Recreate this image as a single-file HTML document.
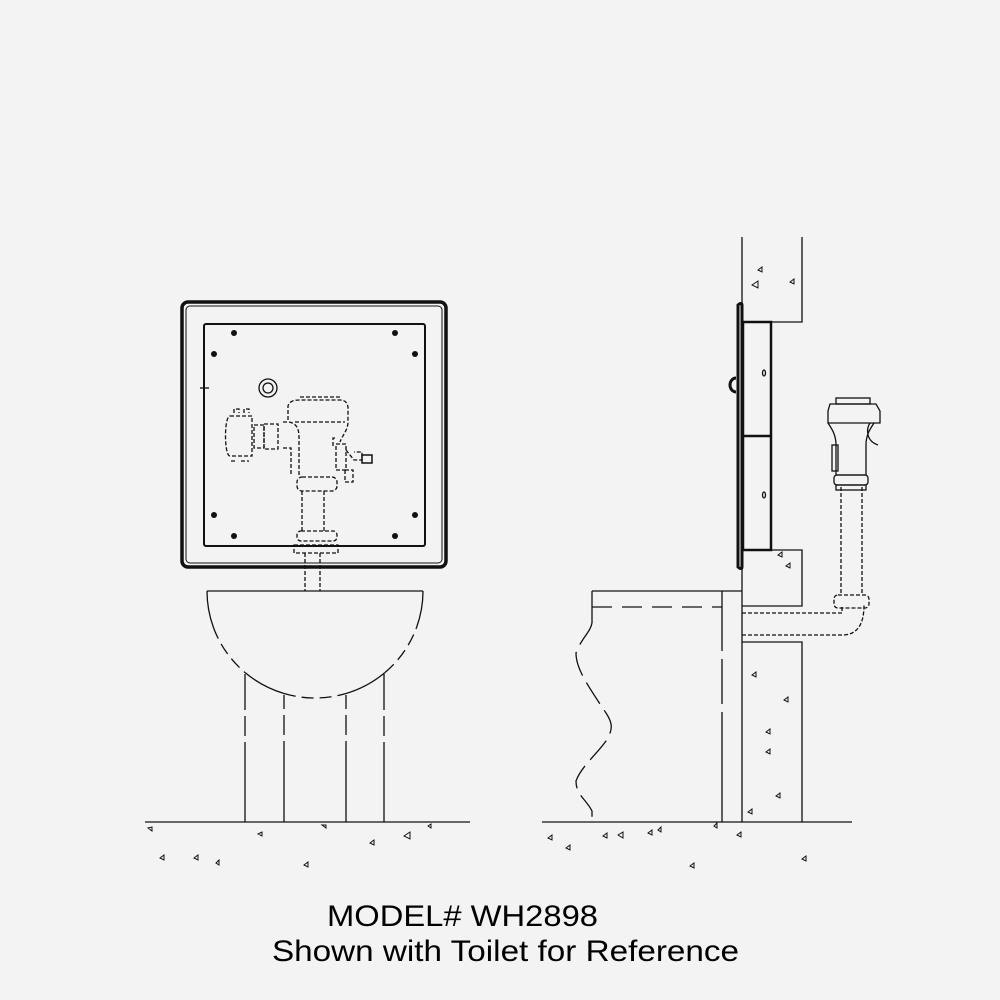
<!DOCTYPE html>
<html><head><style>html,body{margin:0;padding:0;background:#f3f3f3}svg{display:block}</style></head>
<body>
<svg width="1000" height="1000" viewBox="0 0 1000 1000" xmlns="http://www.w3.org/2000/svg">
<rect width="1000" height="1000" fill="#f3f3f3"/>
<g fill="none" stroke="#111" stroke-width="1.3">
<!-- LEFT VIEW panel -->
<rect x="182" y="302" width="264" height="265" rx="6" stroke-width="3.5"/>
<rect x="186" y="306" width="256" height="257" rx="4" stroke-width="1"/>
<rect x="204" y="324" width="221" height="222" rx="2" stroke-width="2"/>
<g fill="#111" stroke="none">
<circle cx="234" cy="333" r="3"/><circle cx="395" cy="333" r="3"/>
<circle cx="214" cy="354" r="3"/><circle cx="415" cy="354" r="3"/>
<circle cx="214" cy="515" r="3"/><circle cx="415" cy="515" r="3"/>
<circle cx="234" cy="536" r="3"/><circle cx="395" cy="536" r="3"/>
</g>
<circle cx="268" cy="388" r="9"/><circle cx="268" cy="388" r="5"/>
<line x1="200" y1="388" x2="209" y2="388"/>
<g stroke-dasharray="4 2">
<path d="M234 413v-4h5v4 M244 413v-4h5v4"/>
<path d="M230 416h22v40h-22c-6 0-6-40 0-40z"/>
<path d="M231 461h6 M241 461h8"/>
<rect x="254" y="425" width="10" height="23"/><rect x="264" y="424" width="14" height="25"/>
<path d="M283 422h6c10 2 10 10 10 18v35 M283 448h8v27"/>
<path d="M288 420v-14c2-6 8-6 12-6h40c6 0 8 4 8 8v14c0 8-6 14-8 20 M295 422h50 M300 397h40"/>
<path d="M333 446v-8h4"/>
<rect x="336" y="444" width="10" height="26"/>
<path d="M346 450l8 10h8v-8h-8"/>
<rect x="345" y="470" width="8" height="12"/>
<rect x="297" y="477" width="40" height="14" rx="5"/>
<path d="M302 491v40 M324 491v40"/>
<rect x="297" y="531" width="40" height="10" rx="4"/>
<rect x="294" y="545" width="44" height="8"/>
<path d="M305 553v38 M320 553v38"/>
</g>
<path d="M362 455h10v8h-10z" stroke-width="1.5"/>
<!-- bowl -->
<line x1="207" y1="591" x2="423" y2="591"/>
<path d="M207 591 A108 107 0 0 0 213.5 627.6 M245 672.5 A108 107 0 0 0 284 693.5 M346 693.5 A108 107 0 0 0 385 672.5 M416.5 627.6 A108 107 0 0 0 423 591"/>
<path d="M213.5 627.6 A108 107 0 0 0 245 672.5 M284 693.5 A108 107 0 0 0 346 693.5 M385 672.5 A108 107 0 0 0 416.5 627.6" stroke-dasharray="12 6"/>
<path d="M245 674v148 M384 674v148" stroke-dasharray="36 6 20 6 100 0"/>
<path d="M284 695v127 M346 695v127" stroke-dasharray="14 6 20 6 100 0"/>
<line x1="145" y1="822" x2="470" y2="822"/>
<!-- RIGHT VIEW -->
<path d="M742 237v585 M802 237v85h-60 M742 550h60v56h-60 M742 642h60v180"/>
<path d="M738 305c2-2 4-2 4 0v262c0 2-2 2-4 0z" stroke-width="3"/>
<rect x="743" y="322" width="28" height="228" stroke-width="2.5"/>
<line x1="743" y1="436" x2="771" y2="436" stroke-width="2.5"/>
<path d="M736 378a6 7 0 0 0 0 14" stroke-width="3"/>
<ellipse cx="764" cy="373" rx="1.5" ry="3"/><ellipse cx="764" cy="495" rx="1.5" ry="3"/>
<path d="M542 822h310"/>
<path d="M592 591h150 M592 591v32"/>
<path d="M722 591v231" stroke-dasharray="60 8 45 8 200 0"/>
<path d="M592 607h130" stroke-dasharray="20 10 20 10"/>
<path d="M592 623c-2 10-10 14-16 30c0 15 10 30 30 60c8 12 6 18 0 28c-10 14-25 26-30 40c0 14 10 18 16 30v10" stroke-dasharray="25 8"/>
<path d="M742 613h100v-8 M742 635h100c15 0 22-10 22-30" stroke-dasharray="4 2"/>
<path d="M841 487v108 M862 487v108" stroke-dasharray="4 2"/>
<rect x="834" y="595" width="35" height="13" rx="4" stroke-dasharray="4 2"/>
<!-- valve -->
<path d="M830 404h46l4 7v12h-52v-12z" fill="#f3f3f3"/>
<rect x="836" y="398" width="34" height="6"/>
<path d="M828 423c4 6 8 12 8 22v30h30v-30c0-10 4-16 8-22 M870 423c-4 6-4 18 8 22"/>
<rect x="832" y="445" width="6" height="26"/>
<rect x="834" y="475" width="34" height="10" rx="3"/>
<rect x="836" y="485" width="30" height="5"/>
<!-- aggregate triangles -->
<g stroke-width="1">
<path d="M758 270l4 -3v5z M752 285l6-4v7z M790 282l4-3v5z M778 555l4-3v5z M786 566l4-3v5z M752 675l4-3v5z M784 700l4-3v5z M766 732l4-3v5z M766 752l4-3v5z M776 796l4-3v5z M748 812l4-3v5z M148 828l4-1v4z M258 834l4-2v4z M322 825l4 0v3z M370 843l4-3v5z M404 836l6-4v7z M428 826l3-2v4z M160 858l4-3v5z M194 858l4-3v5z M216 863l3-3v5z M304 865l4-3v5z M548 838l4-3v5z M566 848l4-3v5z M603 836l4-3v5z M618 835l5-3v6z M648 833l4-3v5z M658 830l3-3v5z M714 826l3-3v5z M737 835l4-3v5z M690 866l4-3v5z M802 859l4-3v5z"/>
</g>
</g>
<g font-family="'Liberation Sans', Arial, sans-serif" fill="#000" font-size="30">
<text x="327" y="926" textLength="271" lengthAdjust="spacingAndGlyphs">MODEL# WH2898</text>
<text x="272" y="961" textLength="467" lengthAdjust="spacingAndGlyphs">Shown with Toilet for Reference</text>
</g>
</svg>
</body></html>
